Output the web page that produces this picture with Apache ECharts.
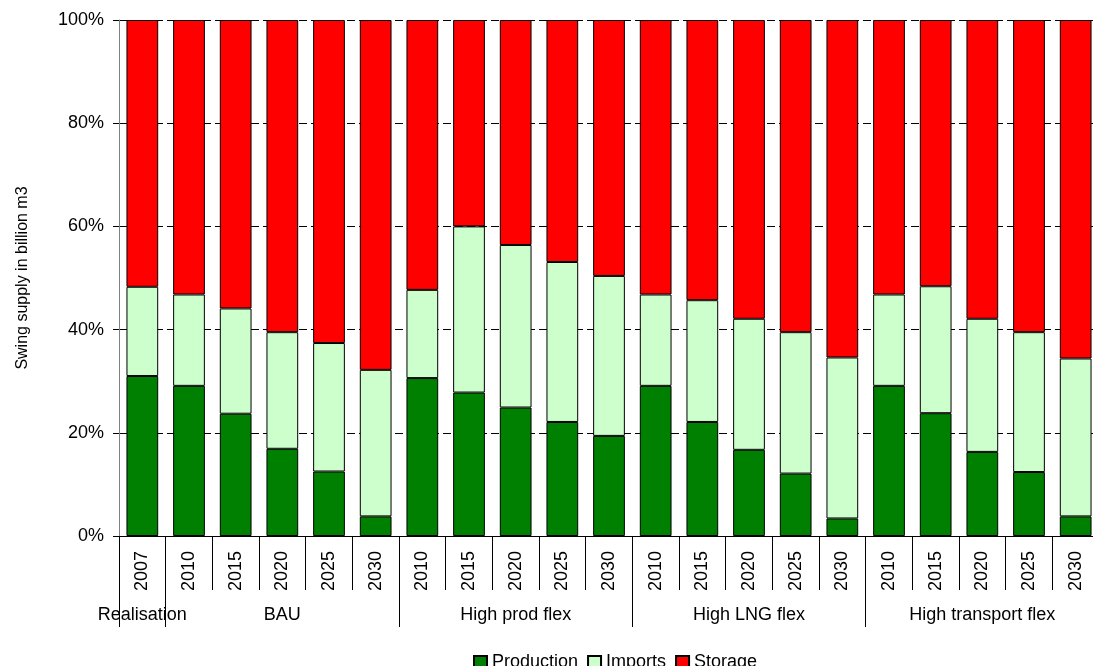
<!DOCTYPE html>
<html>
<head>
<meta charset="utf-8">
<script src="https://cdn.jsdelivr.net/npm/echarts@6/dist/echarts.min.js"></script>
<style>
  html, body { margin: 0; padding: 0; background: #fff; }
  #chart { width: 1093px; height: 666px; }
</style>
</head>
<body>
<div id="chart"></div>
<script>
// Scenario groups and the years shown under each of them
const groups = ['Realisation', 'BAU', 'High prod flex', 'High LNG flex', 'High transport flex'];
const groupYears = [
  ['2007'],
  ['2010', '2015', '2020', '2025', '2030'],
  ['2010', '2015', '2020', '2025', '2030'],
  ['2010', '2015', '2020', '2025', '2030'],
  ['2010', '2015', '2020', '2025', '2030']
];

// Share of swing supply by source (%)
const production = [31.0, 29.1, 23.7, 16.9, 12.5, 3.8, 30.6, 27.8, 24.9, 22.1, 19.4, 29.1, 22.1, 16.7, 12.1, 3.4, 29.1, 23.8, 16.3, 12.4, 3.8];
const imports    = [17.3, 17.7, 20.4, 22.6, 24.9, 28.4, 17.1, 32.2, 31.5, 31.0, 31.0, 17.7, 23.6, 25.4, 27.4, 31.2, 17.7, 24.6, 25.8, 27.1, 30.6];
const storage    = [51.7, 53.2, 55.9, 60.5, 62.6, 67.8, 52.3, 40.0, 43.6, 46.9, 49.6, 53.2, 54.3, 57.9, 60.5, 65.4, 53.2, 51.6, 57.9, 60.5, 65.6];

const seriesNames = ['Production', 'Imports', 'Storage'];
const seriesColors = ['#008000', '#CCFFCC', '#FF0000'];

// Flatten the groups into one category per bar
const years = [];
const groupOfBar = [];
const groupStart = new Set();
const groupMiddle = new Set();
groupYears.forEach((ys, g) => {
  groupStart.add(years.length);
  groupMiddle.add(years.length + Math.floor(ys.length / 2));
  ys.forEach(y => { years.push(y); groupOfBar.push(groups[g]); });
});

const font = 'Liberation Sans, Arial, sans-serif';
const chart = echarts.init(document.getElementById('chart'), null, { renderer: 'canvas' });

chart.setOption({
  animation: false,
  backgroundColor: '#fff',
  textStyle: { fontFamily: font, color: '#000' },
  // the plot runs a few pixels past the right edge of the canvas
  grid: {
    left: 119, width: 980, top: 20, height: 516,
    containLabel: false,
    outerBoundsMode: 'none'
  },
  legend: {
    left: 468,
    top: 648,
    icon: 'rect',
    itemWidth: 13,
    itemHeight: 12,
    itemGap: 9,
    textStyle: { fontFamily: font, fontSize: 18, color: '#000' },
    data: seriesNames
  },
  xAxis: [
    {
      type: 'category',
      position: 'bottom',
      data: years,
      axisLine: { show: true, lineStyle: { color: '#000', width: 1 } },
      axisTick: { show: true, interval: 0, length: 54, lineStyle: { color: '#000', width: 1 } },
      axisLabel: { interval: 0, rotate: 90, margin: 15, fontSize: 18, fontFamily: font, color: '#000' },
      splitLine: { show: false }
    },
    {
      type: 'category',
      position: 'bottom',
      data: groupOfBar,
      axisLine: { show: false },
      axisTick: {
        show: true,
        length: 91,
        interval: (i) => groupStart.has(i),
        lineStyle: { color: '#000', width: 1 }
      },
      axisLabel: {
        interval: (i) => groupMiddle.has(i),
        margin: 70,
        fontSize: 18,
        fontFamily: font,
        color: '#000'
      },
      splitLine: { show: false }
    }
  ],
  yAxis: {
    type: 'value',
    min: 0,
    max: 100,
    interval: 20,
    name: 'Swing supply in billion m3',
    nameLocation: 'middle',
    nameRotate: 90,
    nameGap: 88,
    nameTextStyle: { fontFamily: font, fontSize: 16, color: '#000' },
    axisLine: { show: true, lineStyle: { color: '#808080', width: 1 } },
    axisTick: { show: true, length: 6, lineStyle: { color: '#000', width: 1 } },
    axisLabel: { formatter: '{value}%', margin: 15, fontSize: 18, fontFamily: font, color: '#000' },
    splitLine: { show: true, lineStyle: { color: '#000', width: 1, type: [8, 4] } }
  },
  series: [production, imports, storage].map((vals, k) => ({
    name: seriesNames[k],
    type: 'bar',
    stack: 'share',
    xAxisIndex: 0,
    barCategoryGap: '32%',
    data: vals,
    itemStyle: { color: seriesColors[k], borderColor: '#000', borderWidth: 1 }
  }))
});
</script>
</body>
</html>
